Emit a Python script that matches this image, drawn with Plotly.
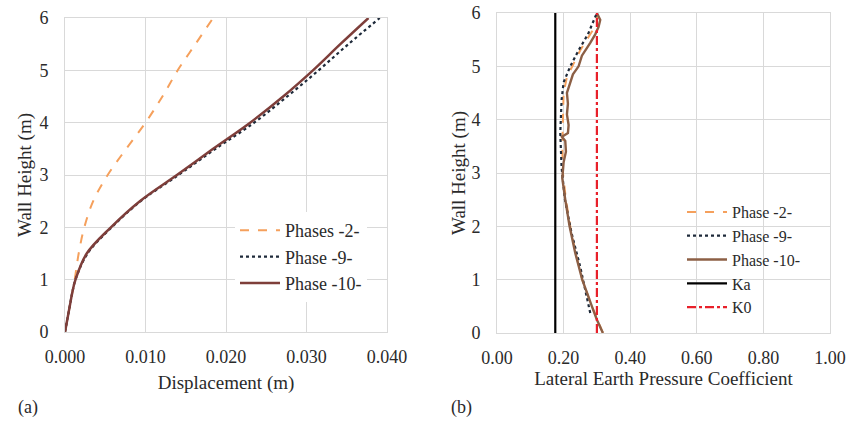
import plotly.graph_objects as go

# ---------- Panel (a): displacement ----------
h_disp = [0, 0.25, 0.5, 0.75, 1.0, 1.5, 2.0, 2.5, 3.0, 3.5, 4.0, 4.5, 5.0, 5.5, 6.0]
disp_p2 = [0, 0.0003, 0.0006, 0.0009, 0.0012, 0.0017, 0.0024, 0.0035, 0.0053, 0.0076, 0.0100, 0.0121, 0.0140, 0.0162, 0.0184]
disp_p9 = [0, 0.0003, 0.0006, 0.0009, 0.0013, 0.0028, 0.0058, 0.0094, 0.0141, 0.0187, 0.0235, 0.0276, 0.0315, 0.0352, 0.0391]
disp_p10 = [0, 0.0003, 0.0006, 0.0009, 0.0013, 0.0027, 0.0057, 0.0093, 0.0139, 0.0184, 0.0230, 0.0271, 0.0308, 0.0342, 0.0377]

# ---------- Panel (b): lateral earth pressure coefficient ----------
h_k10 = [0, 0.25, 0.5, 0.75, 1.0, 1.5, 2.0, 2.5, 2.9, 3.2, 3.4, 3.6, 3.68, 3.75, 3.9, 4.1, 4.3, 4.5, 4.7, 4.85, 5.0, 5.2, 5.44, 5.6, 5.74, 5.87, 6.0]
k_p10 = [0.318, 0.30, 0.285, 0.27, 0.256, 0.235, 0.218, 0.205, 0.196, 0.2, 0.207, 0.205, 0.195, 0.213, 0.215, 0.21, 0.213, 0.21, 0.22, 0.228, 0.245, 0.255, 0.28, 0.295, 0.305, 0.31, 0.30]
h_k9 = [0.375, 0.8, 1.24, 1.87, 2.5, 3.1, 3.75, 4.37, 4.7, 5.0, 5.3, 5.6, 5.93, 6.0]
k_p9 = [0.28, 0.265, 0.25, 0.224, 0.204, 0.194, 0.19, 0.194, 0.2, 0.22, 0.245, 0.273, 0.295, 0.3]
h_k2 = [0, 0.5, 1.0, 1.5, 2.0, 2.5, 3.0, 3.5, 4.0, 4.5, 4.8, 5.0, 5.3, 5.6, 5.8, 6.0]
k_p2 = [0.318, 0.285, 0.256, 0.236, 0.22, 0.207, 0.198, 0.196, 0.198, 0.2, 0.21, 0.225, 0.25, 0.28, 0.3, 0.3]
k_a = 0.175
k_0 = 0.30
h_ref = [0, 6]

C_P2 = "#F5A05C"
C_P9 = "#1E2A3A"
C_P10 = "#7E3E3A"
C_P10b = "#8C5F45"
TXT = "#2a2a2a"
FONT = "Liberation Serif"

# margins and pixel geometry
ML, MR, MT, MB = 60, 5, 10, 88
PW = 850 - ML - MR
PH = 423 - MT - MB


def px_x(p):
    return (p - ML) / PW


def px_y(p):
    return 1 - (p - MT) / PH


fig = go.Figure()

fig.add_trace(go.Scatter(x=disp_p2, y=h_disp, mode="lines", name="Phases -2-",
                         line=dict(color=C_P2, width=2, dash="dash", shape="spline"),
                         xaxis="x", yaxis="y", legend="legend"))
fig.add_trace(go.Scatter(x=disp_p9, y=h_disp, mode="lines", name="Phase -9-",
                         line=dict(color=C_P9, width=2.2, dash="dot", shape="spline"),
                         xaxis="x", yaxis="y", legend="legend"))
fig.add_trace(go.Scatter(x=disp_p10, y=h_disp, mode="lines", name="Phase -10-",
                         line=dict(color=C_P10, width=2.5, shape="spline"),
                         xaxis="x", yaxis="y", legend="legend"))

fig.add_trace(go.Scatter(x=k_p2, y=h_k2, mode="lines", name="Phase -2-",
                         line=dict(color=C_P2, width=2, dash="dash"),
                         xaxis="x2", yaxis="y2", legend="legend2"))
fig.add_trace(go.Scatter(x=k_p9, y=h_k9, mode="lines", name="Phase -9-",
                         line=dict(color=C_P9, width=2.2, dash="dot"),
                         xaxis="x2", yaxis="y2", legend="legend2"))
fig.add_trace(go.Scatter(x=k_p10, y=h_k10, mode="lines", name="Phase -10-",
                         line=dict(color=C_P10b, width=2.4),
                         xaxis="x2", yaxis="y2", legend="legend2"))
fig.add_trace(go.Scatter(x=[k_a, k_a], y=h_ref, mode="lines", name="Ka",
                         line=dict(color="black", width=2.2),
                         xaxis="x2", yaxis="y2", legend="legend2"))
fig.add_trace(go.Scatter(x=[k_0, k_0], y=h_ref, mode="lines", name="K0",
                         line=dict(color="#E8202A", width=2.2, dash="dashdot"),
                         xaxis="x2", yaxis="y2", legend="legend2"))

axis_common = dict(showgrid=True, gridcolor="#D9D9D9", gridwidth=1,
                   showline=True, linecolor="#D9D9D9", linewidth=1, mirror=True,
                   zeroline=False, ticks="", automargin=False,
                   tickfont=dict(family=FONT, size=18, color=TXT))

title_font = dict(family=FONT, size=19, color=TXT)

fig.update_layout(
    template="plotly_white",
    width=850, height=423,
    margin=dict(l=ML, r=MR, t=MT, b=MB),
    paper_bgcolor="white", plot_bgcolor="white",
    font=dict(family=FONT, size=18, color=TXT),
    xaxis=dict(domain=[px_x(65), px_x(387)], range=[0, 0.04], dtick=0.01, tickformat=".3f",
               ticklabelstandoff=8,
               title=dict(text="Displacement (m)", standoff=10, font=title_font), anchor="y", **axis_common),
    yaxis=dict(domain=[px_y(332), px_y(18)], range=[0, 6], dtick=1, ticklabelstandoff=12,
               title=dict(text="Wall Height (m)", standoff=2, font=title_font), anchor="x", **axis_common),
    xaxis2=dict(domain=[px_x(497), px_x(830)], range=[0, 1], dtick=0.2, tickformat=".2f",
                ticklabelstandoff=8,
                title=dict(text="Lateral Earth Pressure Coefficient", standoff=2, font=title_font),
                anchor="y2", **axis_common),
    yaxis2=dict(domain=[px_y(333), px_y(13)], range=[0, 6], dtick=1, ticklabelstandoff=12,
                title=dict(text="Wall Height (m)", standoff=0, font=title_font), anchor="x2", **axis_common),
    legend=dict(x=px_x(235), y=px_y(212), xanchor="left", yanchor="top",
                bgcolor="white", font=dict(family=FONT, size=18, color=TXT),
                tracegroupgap=0, itemwidth=40),
    legend2=dict(x=px_x(682), y=px_y(195), xanchor="left", yanchor="top",
                 bgcolor="rgba(255,255,255,0)", font=dict(family=FONT, size=16, color=TXT),
                 tracegroupgap=0, itemwidth=40),
    showlegend=True,
    annotations=[
        dict(text="(a)", x=px_x(16), y=px_y(407), xref="paper", yref="paper",
             xanchor="left", yanchor="middle", showarrow=False,
             font=dict(family=FONT, size=18, color=TXT)),
        dict(text="(b)", x=px_x(449), y=px_y(407), xref="paper", yref="paper",
             xanchor="left", yanchor="middle", showarrow=False,
             font=dict(family=FONT, size=18, color=TXT)),
    ],
)

fig.write_html("out.html", config={"displayModeBar": False},
               post_script="document.body.style.margin='0';document.body.style.overflow='hidden';")
